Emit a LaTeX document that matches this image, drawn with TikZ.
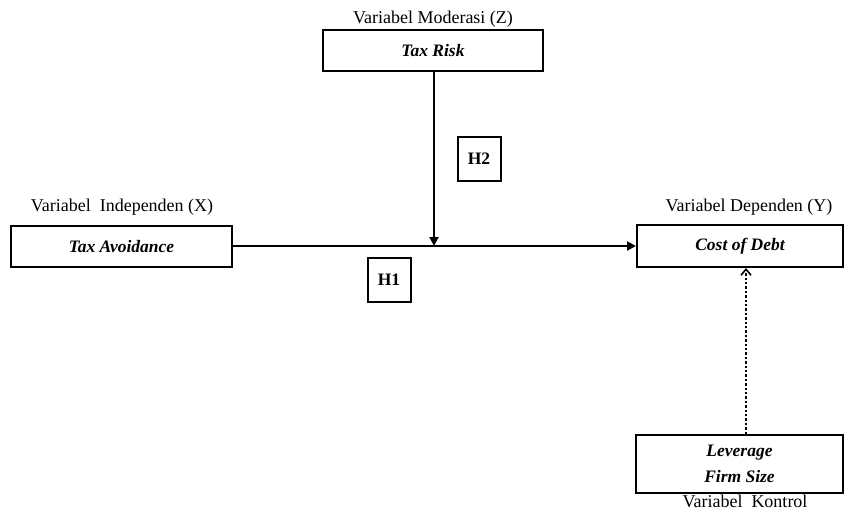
\documentclass[tikz,border=0pt]{standalone}
\usepackage{fontspec}
\setmainfont{Liberation Serif}
\usetikzlibrary{arrows.meta}
\begin{document}
\begin{tikzpicture}[x=1pt,y=-1pt,
  vbox/.style={draw,line width=2pt,inner sep=0pt,font=\fontsize{17.5}{20}\selectfont\bfseries\itshape},
  hbox/.style={draw,line width=2pt,inner sep=0pt,minimum width=43pt,minimum height=44pt,font=\fontsize{17.5}{20}\selectfont\bfseries},
  lbl/.style={font=\fontsize{18}{20}\selectfont,inner sep=0pt},
  conn/.style={line width=2pt,-{Triangle[length=9pt,width=9pt]}}]
\useasboundingbox (0,0) rectangle (846,511);
\node[vbox,minimum width=221pt,minimum height=41pt] (x) at (121.5,246.5) {Tax Avoidance};
\node[vbox,minimum width=220pt,minimum height=41pt] (z) at (433,51) {Tax Risk};
\node[vbox,minimum width=206pt,minimum height=42pt] (y) at (740,246) {Cost of Debt};
\node[vbox,minimum width=207pt,minimum height=58pt,align=center,font=\fontsize{17.5}{26}\selectfont\bfseries\itshape] (k) at (739.5,464) {Leverage\\Firm Size};
\node[hbox] (h2) at (479,159) {H2};
\node[hbox] (h1) at (389,280) {H1};
\node[lbl] (lz) at (433,19) {Variabel Moderasi (Z)};
\node[lbl] (lx) at (122,207) {Variabel\ \ Independen (X)};
\node[lbl] (ly) at (749,207) {Variabel Dependen (Y)};
\node[lbl,anchor=base] (lk) at (745,507.5) {Variabel\ \ Kontrol};
\coordinate (m) at (434,246);
\draw[conn] (x.east |- 0,246) -- (y.west |- 0,246);
\draw[conn] (z.south -| m) -- (m);
\draw[line width=2.4pt,dotted,-{Straight Barb[length=6pt,width=10pt,line width=1.6pt]}] (k.north -| 746,0) -- (y.south -| 746,0);
\end{tikzpicture}
\end{document}
